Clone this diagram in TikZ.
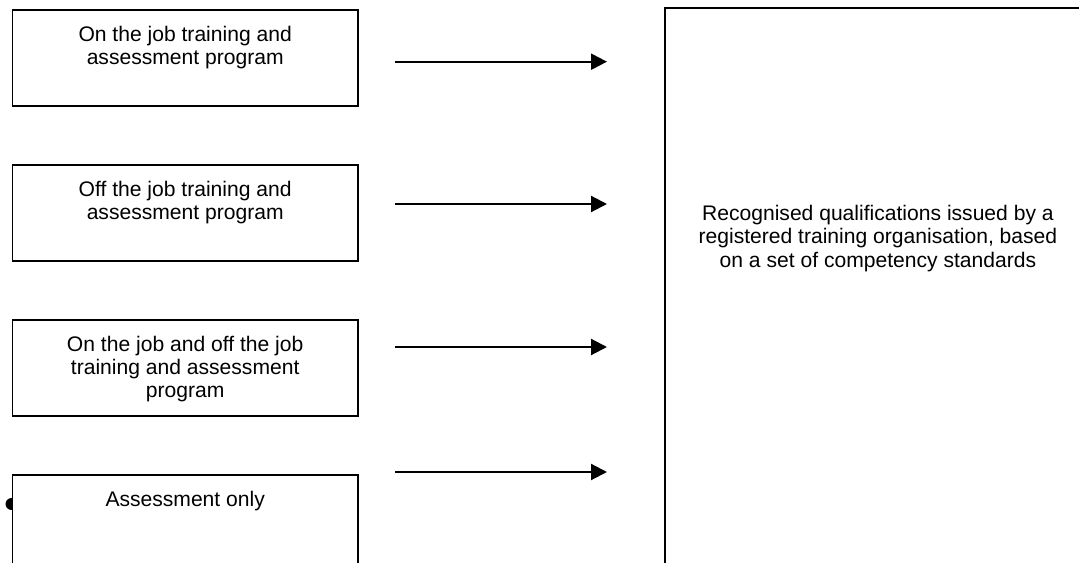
\documentclass[tikz,border=0pt]{standalone}
\usepackage{fontspec}
\setmainfont{Liberation Sans}
\usetikzlibrary{positioning,arrows.meta}

\tikzset{
    progbox/.style={draw=black, line width=1.1pt, fill=white, minimum width=6.91cm, minimum height=1.92cm, inner sep=0pt},
    progtext/.style={align=center, inner sep=0pt, font=\fontsize{12}{13.3}\selectfont},
    flowarrow/.style={line width=1.2pt, -{Triangle[length=0.32cm, width=0.32cm]}}
}

\begin{document}
\begin{tikzpicture}[x=0.02cm, y=-0.02cm]
    % Fix the page to the size of the picture
    \path[use as bounding box, clip] (0,0) rectangle (1079,563);

    % Draw the program boxes on the left
    \node[progbox, anchor=north west] (onjob) at (11.5,9.3) {};
    \node[progbox, below=1.14cm of onjob] (offjob) {};
    \node[progbox, below=1.14cm of offjob] (bothjob) {};
    % the bullet sits behind the last box
    \fill[black] (11.5,504) circle (0.12cm);
    \node[progbox, below=1.14cm of bothjob, minimum height=2.6cm] (assess) {};

    % Texts at the top of the boxes
    \node[progtext, below=0.33cm of onjob.north] (onjobtxt) {On the job training and\\assessment program};
    \node[progtext, below=0.33cm of offjob.north] (offjobtxt) {Off the job training and\\assessment program};
    \node[progtext, below=0.33cm of bothjob.north] (bothjobtxt) {On the job and off the job\\training and assessment\\program};
    \node[progtext, below=0.33cm of assess.north] (assesstxt) {Assessment only};

    % Draw the qualifications box
    \node[progbox, anchor=north west, minimum width=8.52cm, minimum height=12cm] (quals) at (664,7.5) {};
    \node[progtext, below=3.95cm of quals.north] (qualstxt) {Recognised qualifications issued by a\\registered training organisation, based\\on a set of competency standards};

    % Draw the arrows
    \foreach \name/\y in {one/61.7, two/204, three/347, four/472} {
        \coordinate (from\name) at (395,\y);
        \coordinate (to\name) at (607,\y);
        \draw[flowarrow] (from\name) -- (to\name);
    }
\end{tikzpicture}
\end{document}
